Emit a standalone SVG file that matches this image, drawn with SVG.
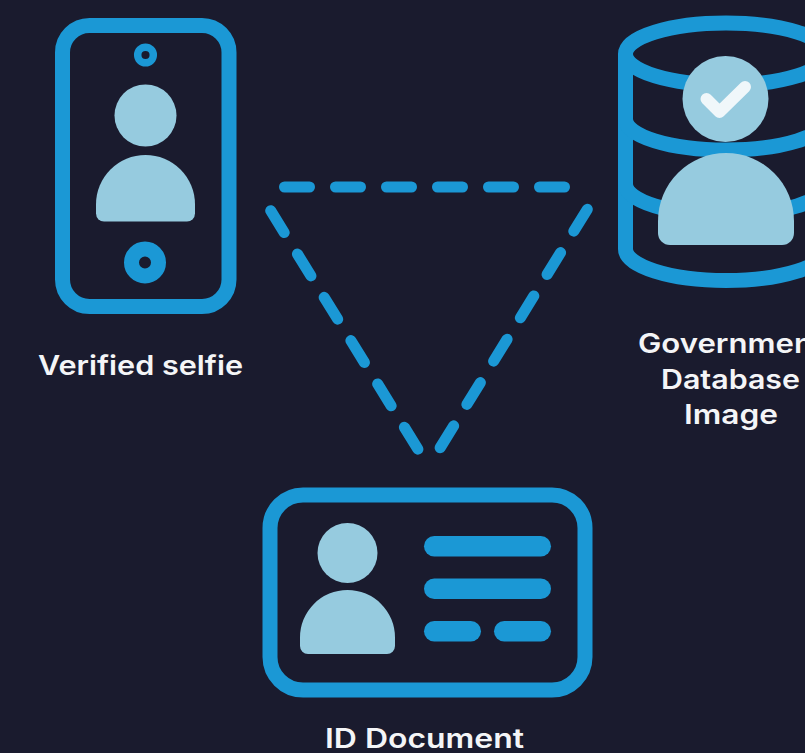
<svg xmlns="http://www.w3.org/2000/svg" width="805" height="753" viewBox="0 0 805 753">
<style>
.ln{fill:none;stroke:#1b98d5;stroke-width:15}
.thin{fill:none;stroke:#1b98d5}
.bar{fill:#1b98d5}
.lt{fill:#96cbdf}
.dash{fill:none;stroke:#1b98d5;stroke-width:11;stroke-linecap:round}
text{font-family:"Inter","Open Sans","Liberation Sans",sans-serif;font-weight:560;font-size:27px;fill:#f4f5f7}
</style>
<rect width="805" height="753" fill="#1a1b2e"/>
<g id="connectors">
<path class="dash" d="M284.5 187H564.5" stroke-dasharray="25 26"/>
<path class="dash" d="M270.7 210.7L418 449.3" stroke-dasharray="25.7 25.2"/>
<path class="dash" d="M587.3 209.3L440 448" stroke-dasharray="25.7 25.2"/>
</g>
<g id="selfie">
<rect class="ln" x="62.5" y="25.5" width="166.5" height="281" rx="27"/>
<circle class="thin" cx="145.5" cy="55" r="7.8" stroke-width="7.5"/>
<circle class="lt" cx="145.5" cy="115.5" r="31"/>
<path class="lt" d="M96 204.5A49.5 49.5 0 0 1 195 204.5V213.5a8 8 0 0 1 -8 8H104a8 8 0 0 1 -8 -8Z"/>
<circle class="thin" cx="145" cy="262.5" r="13.5" stroke-width="15"/>
<text x="38" y="375" textLength="205" lengthAdjust="spacingAndGlyphs">Verified selfie</text>
</g>
<g id="database">
<ellipse class="ln" cx="726" cy="54" rx="100.5" ry="31"/>
<path class="ln" d="M625.5 54V249C625.5 266 670 280.5 726 280.5S826.5 266 826.5 249V54"/>
<path class="ln" d="M625.5 119C625.5 136 670 150 726 150S826.5 136 826.5 119"/>
<path class="ln" d="M625.5 184C625.5 201 670 215 726 215S826.5 201 826.5 184"/>
<circle class="lt" cx="725.5" cy="99" r="43"/>
<path d="M706.5 99L719.5 112L745 87" fill="none" stroke="#f0f7fa" stroke-width="12" stroke-linecap="round" stroke-linejoin="round"/>
<path class="lt" d="M658 221A68 68 0 0 1 794 221V233a12 12 0 0 1 -12 12H670a12 12 0 0 1 -12 -12Z"/>
<text x="638" y="353" textLength="186" lengthAdjust="spacingAndGlyphs">Government</text>
<text x="661" y="389" textLength="139" lengthAdjust="spacingAndGlyphs">Database</text>
<text x="684" y="424" textLength="94" lengthAdjust="spacingAndGlyphs">Image</text>
</g>
<g id="id-document">
<rect class="ln" x="270" y="495" width="315" height="195" rx="33"/>
<circle class="lt" cx="347.5" cy="553" r="30"/>
<path class="lt" d="M300 637.5A47.5 47.5 0 0 1 395 637.5V646a8 8 0 0 1 -8 8H308a8 8 0 0 1 -8 -8Z"/>
<rect class="bar" x="424" y="536" width="127" height="20.5" rx="10.25"/>
<rect class="bar" x="424" y="578.5" width="127" height="20.5" rx="10.25"/>
<rect class="bar" x="424" y="621" width="57" height="20.5" rx="10.25"/>
<rect class="bar" x="494" y="621" width="57" height="20.5" rx="10.25"/>
<text x="325" y="748" textLength="199" lengthAdjust="spacingAndGlyphs">ID Document</text>
</g>
</svg>
